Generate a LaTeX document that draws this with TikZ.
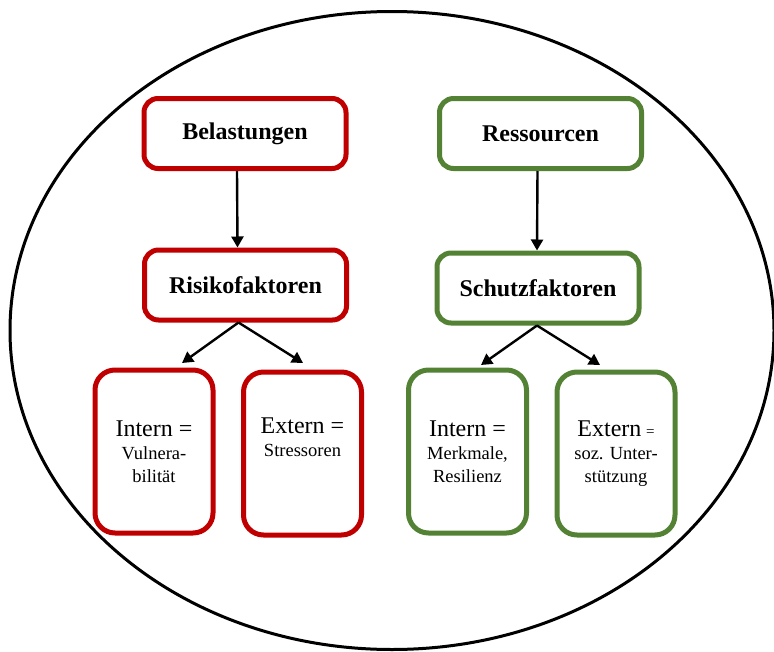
\documentclass[tikz,border=0pt]{standalone}
\usepackage{fontspec}
\setmainfont{Liberation Serif}
\usetikzlibrary{arrows.meta}
\definecolor{riskred}{RGB}{192,0,0}
\definecolor{protgreen}{RGB}{84,130,53}
\tikzset{
  headbox/.style={draw=#1, line width=5pt, rounded corners=14pt, fill=white,
    minimum width=202pt, minimum height=70pt, inner sep=0pt,
    font=\bfseries\fontsize{24}{28}\selectfont},
  factorbox/.style={draw=#1, line width=5pt, rounded corners=20pt, fill=white,
    minimum width=118pt, minimum height=163pt, inner sep=0pt},
  factortext/.style={anchor=north, align=center, inner sep=0pt,
    font=\fontsize{18.5}{23}\selectfont},
  link/.style={draw=black, line width=2.4pt,
    -{Triangle[length=11pt,width=12pt]}},
}
\begin{document}
\begin{tikzpicture}[x=1pt,y=-1pt]
\useasboundingbox (0,0) rectangle (774,651);
% outer frame
\draw[line width=3pt] (392,330.5) ellipse [x radius=382, y radius=319];

% stress side
\node[headbox=riskred] (bel) at (245,133.5) {Belastungen};
\node[headbox=riskred] (risk) at (245.5,285) {Risikofaktoren};
\node[factorbox=riskred] (rin) at (154,451.5) {};
\node[factorbox=riskred] (rex) at (302.5,453.5) {};
\node[factortext] (rint) at (154,421) {{\fontsize{24}{23}\selectfont Intern =}\\Vulnera-\\bilität};
\node[factortext] (rext) at (302.5,418) {{\fontsize{24}{23}\selectfont Extern =}\\Stressoren};

% resource side
\node[headbox=protgreen] (res) at (540.5,133.5) {Ressourcen};
\node[headbox=protgreen] (prot) at (538,288) {Schutzfaktoren};
\node[factorbox=protgreen] (gin) at (467.5,451.5) {};
\node[factorbox=protgreen] (gex) at (616,453.5) {};
\node[factortext] (gint) at (467.5,421) {{\fontsize{24}{23}\selectfont Intern =}\\Merkmale,\\Resilienz};
\node[factortext] (gext) at (616,421) {{\fontsize{24}{23}\selectfont Extern} {\fontsize{15}{23}\selectfont =}\\soz. Unter-\\stützung};

% arrow ends above the lower boxes
\coordinate (rin-end) at (182,363);
\coordinate (rex-end) at (303,363);
\coordinate (gin-end) at (481,365);
\coordinate (gex-end) at (600,365);

% connectors
\draw[link] ([xshift=-8pt]bel.south) -- ([xshift=-8pt]risk.north);
\draw[link] ([xshift=-7pt]risk.south) -- (rin-end);
\draw[link] ([xshift=-7pt]risk.south) -- (rex-end);
\draw[link] ([xshift=-3pt]res.south) -- ([xshift=-1pt]prot.north);
\draw[link] ([xshift=-1pt]prot.south) -- (gin-end);
\draw[link] ([xshift=-1pt]prot.south) -- (gex-end);
\end{tikzpicture}
\end{document}
